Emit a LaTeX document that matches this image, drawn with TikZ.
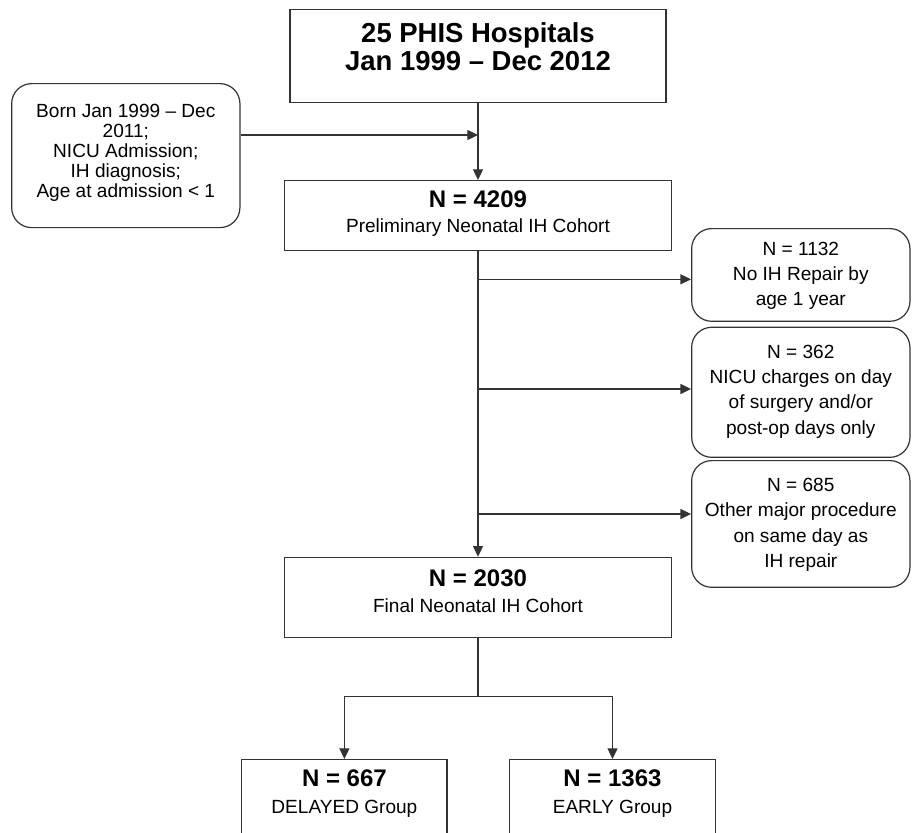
\documentclass[tikz,border=0pt]{standalone}
\usepackage{fontspec}
\setmainfont{Liberation Sans}
\usepackage{tikz}
\usetikzlibrary{arrows.meta,calc,positioning}
\definecolor{linegray}{rgb}{0.2,0.2,0.2}

\begin{document}
\begin{tikzpicture}[x=0.75pt,y=-0.75pt,
    box/.style={draw=linegray,line width=0.9pt,rectangle,anchor=north,align=center,
      inner xsep=0pt,inner ysep=0pt,font=\fontsize{14.3}{19}\selectfont},
    rbox/.style={box,rounded corners=15pt},
    big/.style={font=\bfseries\fontsize{20.6}{21.2}\selectfont},
    arr/.style={draw=linegray,line width=0.9pt,-{Triangle[length=8pt,width=7.5pt]}},
    ln/.style={draw=linegray,line width=0.9pt}]
  \clip (0,0) rectangle (912,832);
  % cohort boxes down the middle
  \node[box,big,minimum width=282pt,text height=45.7pt,text depth=24.1pt] (hosp) at (478,9)
    {25 PHIS Hospitals\\Jan 1999 -- Dec 2012};
  \node[rbox,minimum width=171.2pt,text height=85.4pt,text depth=22.6pt,
    font=\fontsize{14.3}{15}\selectfont] (crit) at (125.8,83)
    {Born Jan 1999 -- Dec\\2011;\\NICU Admission;\\IH diagnosis;\\Age at admission < 1};
  \node[box,minimum width=290.2pt,text height=38.8pt,text depth=13.7pt] (prelim) at (478,180)
    {{\bfseries\fontsize{18}{19}\selectfont N = 4209}\\Preliminary Neonatal IH Cohort};
  % exclusions on the right
  \node[rbox,minimum width=163.7pt,text height=57.8pt,text depth=11.7pt] (ex1) at (800.8,228)
    {N = 1132\\No IH Repair by\\age 1 year};
  \node[rbox,minimum width=163.7pt,text height=80.1pt,text depth=17.4pt] (ex2) at (800.8,326.7)
    {N = 362\\NICU charges on day\\of surgery and/or\\post-op days only};
  \node[rbox,minimum width=163.7pt,text height=80.1pt,text depth=14.9pt] (ex3) at (800.8,460)
    {N = 685\\Other major procedure\\on same day as\\IH repair};
  \node[box,minimum width=290.8pt,text height=41.2pt,text depth=18.8pt] (final) at (478,556.7)
    {{\bfseries\fontsize{18}{19}\selectfont N = 2030}\\[0.5pt]Final Neonatal IH Cohort};
  % the two groups
  \node[box,minimum width=154pt,text height=40.1pt,text depth=30pt] (delayed) at (344.4,759)
    {{\bfseries\fontsize{18}{19}\selectfont N = 667}\\[1.2pt]DELAYED Group};
  \node[box,minimum width=155pt,text height=40.1pt,text depth=30pt] (early) at (612.5,759)
    {{\bfseries\fontsize{18}{19}\selectfont N = 1363}\\[1.2pt]EARLY Group};

  % connectors
  \coordinate (join) at (478,135);
  \coordinate (b1) at (478,279.3);
  \coordinate (b2) at (478,389);
  \coordinate (b3) at (478,514);
  \coordinate (split) at (478,696.7);
  \draw[arr] (hosp.south) -- (prelim.north);
  \draw[arr] (crit.east |- join) -- (join);
  \draw[arr] (prelim.south) -- (final.north);
  \draw[arr] (b1) -- (b1 -| ex1.west);
  \draw[arr] (b2) -- (b2 -| ex2.west);
  \draw[arr] (b3) -- (b3 -| ex3.west);
  \draw[ln] (final.south) -- (split);
  \draw[arr] (split) -| (delayed.north);
  \draw[arr] (split) -| (early.north);
\end{tikzpicture}
\end{document}
